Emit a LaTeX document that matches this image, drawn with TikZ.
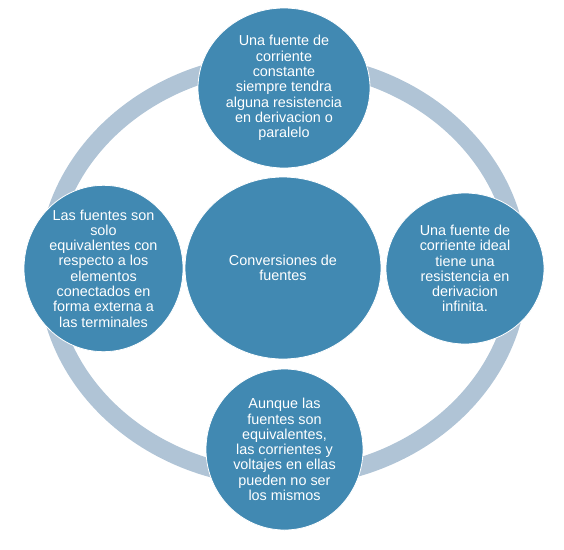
\documentclass[tikz,border=0pt]{standalone}
\usepackage{fontspec}
\setmainfont{Liberation Sans}
\usetikzlibrary{shapes.geometric}
\definecolor{bubble}{RGB}{65,137,178}
\definecolor{ringc}{RGB}{176,196,214}
\begin{document}
\begin{tikzpicture}[x=1pt,y=-1pt,
  bub/.style={ellipse, fill=bubble, draw=white, line width=0.8pt, inner sep=0pt,
    text=white, align=center, font=\fontsize{14.4}{15.3}\selectfont},
  ringline/.style={draw=ringc, line width=18pt}]
\useasboundingbox (0,0) rectangle (564,549);
\draw[ringline] (283,270) ellipse [x radius=236, y radius=208];
\node[bub, minimum width=196, minimum height=182] (c) at (283,268)
  {Conversiones de\\fuentes};
\node[bub, minimum width=172, minimum height=160] (t) at (284,88)
  {Una fuente de\\corriente\\constante\\siempre tendra\\alguna resistencia\\en derivacion o\\paralelo};
\node[bub, minimum width=159, minimum height=151] (l) at (103.5,268.5)
  {Las fuentes son\\solo\\equivalentes con\\respecto a los\\elementos\\conectados en\\forma externa a\\las terminales};
\node[bub, minimum width=158, minimum height=151] (r) at (465,268.5)
  {Una fuente de\\corriente ideal\\tiene una\\resistencia en\\derivacion\\infinita.};
\node[bub, minimum width=157, minimum height=161] (b) at (284.5,449.5)
  {Aunque las\\fuentes son\\equivalentes,\\las corrientes y\\voltajes en ellas\\pueden no ser\\los mismos};
\end{tikzpicture}
\end{document}
